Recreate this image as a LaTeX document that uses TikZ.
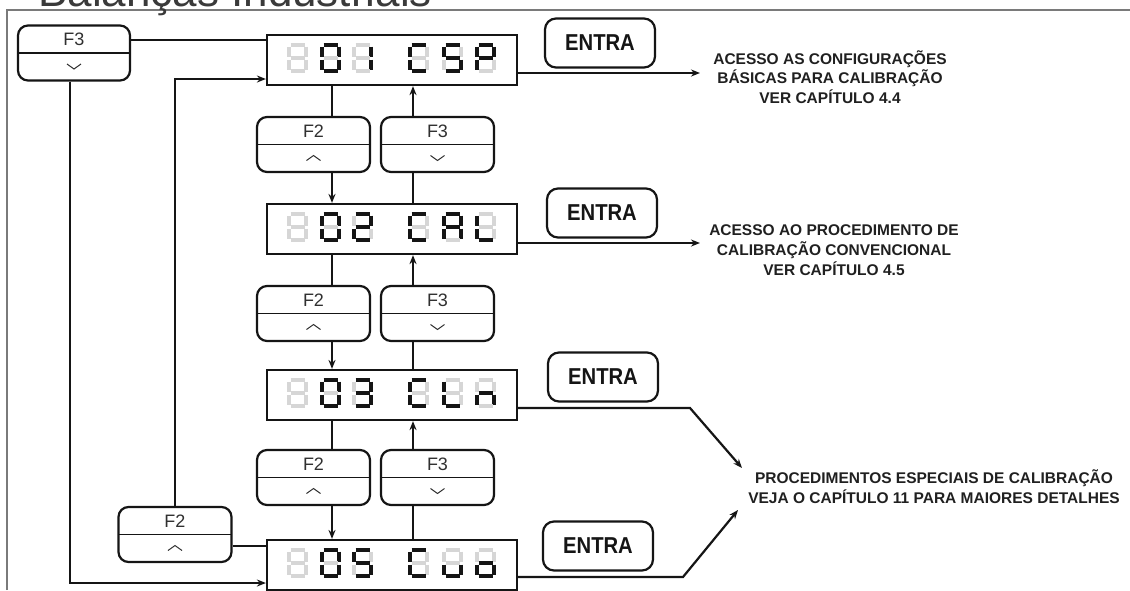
\documentclass[tikz,border=0pt]{standalone}
\usepackage{fontspec}
\setmainfont{Liberation Sans}
\newfontfamily\entrafont{Liberation Sans}[FakeStretch=0.88]
\usetikzlibrary{arrows.meta,calc}
\definecolor{ghost}{HTML}{D6D6D6}
\definecolor{ink}{HTML}{151515}
\definecolor{txt}{HTML}{202020}
\definecolor{keytxt}{HTML}{303030}
\definecolor{framecol}{HTML}{7A7A7A}
\definecolor{titlecol}{HTML}{3A3A3A}
\makeatletter
\newcommand\ssd[3]{%
  \foreach \s/\xa/\ya/\xb/\yb in {a/3.5/2/17.5/2,b/19/3.5/19/13.5,c/19/16.5/19/26.5,d/3.5/28/17.5/28,e/2/16.5/2/26.5,f/2/3.5/2/13.5,g/3.5/15/17.5/15}{%
    \expandafter\in@\expandafter{\s}{#3}%
    \ifin@\def\segcol{ink}\else\def\segcol{ghost}\fi
    \draw[segline,draw=\segcol] ({#1+\xa},{#2+\ya}) -- ({#1+\xb},{#2+\yb});
  }}
\makeatother
\newcommand\sevenrow[8]{%
  \ssd{#1+20}{#2}{#3}\ssd{#1+53}{#2}{#4}\ssd{#1+85}{#2}{#5}%
  \ssd{#1+141}{#2}{#6}\ssd{#1+175}{#2}{#7}\ssd{#1+208}{#2}{#8}}
\tikzset{
  segline/.style={line width=3.8, line cap=butt, sharp corners},
  conn/.style={draw=ink, line width=2.2},
  arr/.style={conn, -{Stealth[length=9,width=7]}},
  disp/.style={draw=ink, line width=2.2, minimum width=250, minimum height=50, inner sep=0},
  entra/.style={draw=ink, line width=2.2, rounded corners=11, minimum width=110, minimum height=49, inner sep=0,
    font=\entrafont\bfseries\fontsize{23}{23}\selectfont, text=ink},
  keylabel/.style={font=\fontsize{18}{18}\selectfont, text=keytxt, inner sep=0},
  chev/.style={draw=keytxt, line width=1, sharp corners},
  keybase/.style={draw=ink, line width=2.2, rounded corners=10, minimum width=113, minimum height=55, inner sep=0},
  keyup/.style={keybase, label={[keylabel, yshift=13.5]center:#1},
    path picture={
      \draw[line width=1.7, ink, sharp corners] (path picture bounding box.west) -- (path picture bounding box.east);
      \draw[chev] ($(path picture bounding box.center)+(-7,16)$) -- ++(7,-5) -- ++(7,5);}},
  keydown/.style={keybase, label={[keylabel, yshift=13.5]center:#1},
    path picture={
      \draw[line width=1.7, ink, sharp corners] (path picture bounding box.west) -- (path picture bounding box.east);
      \draw[chev] ($(path picture bounding box.center)+(-7,11)$) -- ++(7,5) -- ++(7,-5);}},
  note/.style={align=center, text=txt, inner sep=0, font=\bfseries\fontsize{15.5}{19.7}\selectfont},
  framestyle/.style={draw=framecol, line width=1.4},
}
\begin{document}
\begin{tikzpicture}[x=1pt,y=-1pt]
\fill[white] (0,0) rectangle (1130,590);
\useasboundingbox (0,0) rectangle (1130,590);
% frame and title (cut at the top edge, as in the reference)
\draw[framestyle] (7,590) -- (7,10) -- (1130,10);
\node[anchor=base west, inner sep=0, font=\fontsize{44}{44}\selectfont, text=titlecol] (title) at (38,6) {Balanças Industriais};

% displays
\node[disp] (d1) at (392,60) {};
\node[disp] (d2) at (392,229) {};
\node[disp] (d3) at (392,395) {};
\node[disp] (d5) at (392,565) {};
\sevenrow{267}{43}{}{abcdef}{bc}{adef}{acdfg}{abefg}
\sevenrow{267}{212}{}{abcdef}{abdeg}{adef}{abcefg}{def}
\sevenrow{267}{378}{}{abcdef}{abcdg}{adef}{def}{ceg}
\sevenrow{267}{548}{}{abcdef}{acdfg}{adef}{cde}{cdeg}

% ENTRA keys
\node[entra] (e1) at (600,43) {ENTRA};
\node[entra] (e2) at (602,213) {ENTRA};
\node[entra] (e3) at (603,377) {ENTRA};
\node[entra] (e4) at (598,546) {ENTRA};

% F keys
\node[keydown=F3, minimum width=112] (k3top) at (74,53) {};
\node[keyup=F2] (f2l) at (175,534.5) {};
\node[keyup=F2] (f2a) at (313.5,144.5) {};
\node[keydown=F3] (f3a) at (437.5,144.5) {};
\node[keyup=F2] (f2b) at (313.5,313.5) {};
\node[keydown=F3] (f3b) at (437.5,313.5) {};
\node[keyup=F2] (f2c) at (313.5,477.5) {};
\node[keydown=F3] (f3c) at (437.5,477.5) {};

% notes
\node[note] (t1) at (830,77) {ACESSO AS CONFIGURAÇÕES\\BÁSICAS PARA CALIBRAÇÃO\\VER CAPÍTULO 4.4};
\node[note] (t2) at (834,250) {ACESSO AO PROCEDIMENTO DE\\CALIBRAÇÃO CONVENCIONAL\\VER CAPÍTULO 4.5};
\node[note] (t3) at (934,487) {PROCEDIMENTOS ESPECIAIS DE CALIBRAÇÃO\\VEJA O CAPÍTULO 11 PARA MAIORES DETALHES};

% helper coordinates
\coordinate (cx2) at (332,0);
\coordinate (cx3) at (413,0);
\coordinate (ya) at (0,40);
\coordinate (yb) at (175,79);
\coordinate (yc) at (0,546);
\coordinate (xl) at (70,583);
\coordinate (a1) at (700,73);
\coordinate (a2) at (700,243);
\coordinate (k3) at (690,408);
\coordinate (tip3) at (742,468);
\coordinate (k5) at (683,577);
\coordinate (tip5) at (738,510);

% left loops
\draw[conn] (k3top.east |- ya) -- (d1.west |- ya);
\draw[arr] (k3top.south -| xl) -- (xl) -- (d5.west |- xl);
\draw[arr] (f2l.north) -- (yb) -- (d1.west |- yb);
\draw[conn] (f2l.east |- yc) -- (d5.west |- yc);

% vertical chain
\foreach \da/\fa/\fb/\db in {d1/f2a/f3a/d2, d2/f2b/f3b/d3, d3/f2c/f3c/d5}{
  \draw[conn] (\da.south -| cx2) -- (\fa.north -| cx2);
  \draw[arr] (\fa.south -| cx2) -- (\db.north -| cx2);
  \draw[conn] (\db.north -| cx3) -- (\fb.south -| cx3);
  \draw[arr] (\fb.north -| cx3) -- (\da.south -| cx3);
}

% outputs
\draw[arr] (d1.east |- a1) -- (a1);
\draw[arr] (d2.east |- a2) -- (a2);
\draw[arr] (d3.east |- k3) -- (k3) -- (tip3);
\draw[arr] (d5.east |- k5) -- (k5) -- (tip5);
\end{tikzpicture}
\end{document}
